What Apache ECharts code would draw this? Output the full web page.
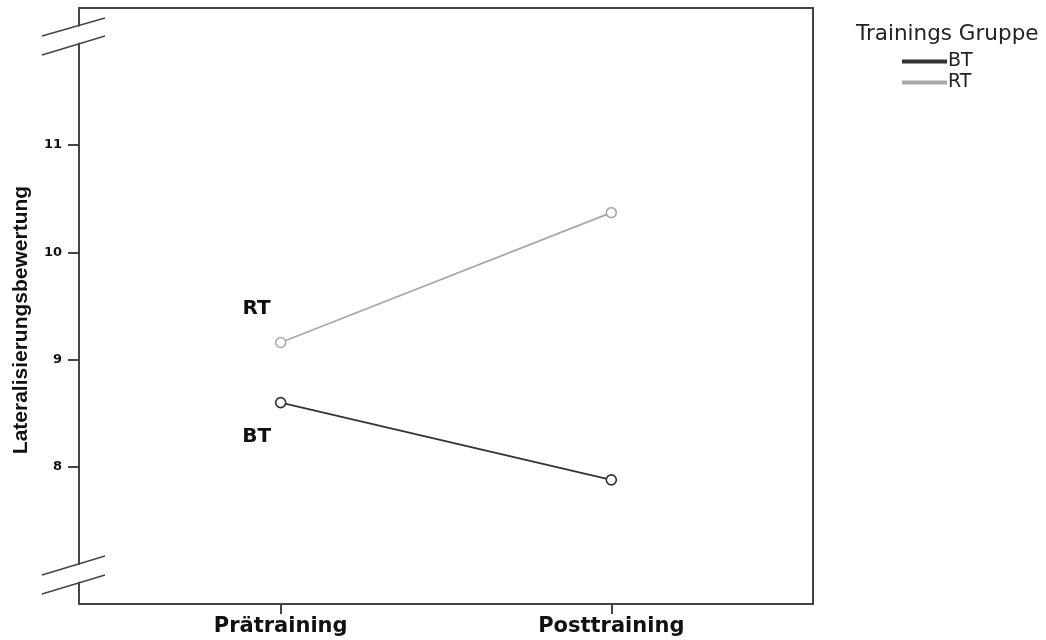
<!DOCTYPE html>
<html><head><meta charset="utf-8">
<script src="https://cdn.jsdelivr.net/npm/echarts@6/dist/echarts.min.js"></script>
<style>html,body{margin:0;padding:0;background:#fff}#c{width:1046px;height:640px}</style>
</head><body><div id="c"></div>
<script>
const categories = ['Prätraining', 'Posttraining'];
const seriesNames = ['BT', 'RT'];
const valuesBT = [8.60, 7.88];
const valuesRT = [9.16, 10.37];
const yTicks = [8, 9, 10, 11];
const legendTitle = 'Trainings Gruppe';
const yName = 'Lateralisierungsbewertung';

const chart = echarts.init(document.getElementById('c'), null, {renderer: 'canvas'});
const toPts = arr => arr.map((v, i) => [i, v]);

function mkSeries(name, vals, color, lblDy) {
  return {
    name: name, type: 'line', data: toPts(vals).map((p, i) => i === 0 ? {
      value: p,
      label: {show: true, position: 'inside', offset: [-24, lblDy], formatter: name,
        fontFamily: 'DejaVu Sans', fontWeight: 'bold', fontSize: 20, color: '#111'}
    } : {value: p}),
    symbol: 'circle', symbolSize: 10, showSymbol: true,
    itemStyle: {color: '#fff', borderColor: color, borderWidth: 1.6},
    lineStyle: {color: color, width: 1.8},
    color: color, z: 3, animation: false
  };
}

const option = {
  animation: false,
  backgroundColor: '#fff',
  title: {text: legendTitle, left: 851, top: 18,
    textStyle: {fontFamily: 'DejaVu Sans', fontWeight: 'normal', fontSize: 21.5, color: '#222'}},
  legend: {orient: 'vertical', left: 897, top: 46, itemGap: 0, itemWidth: 43, itemHeight: 2,
    icon: 'rect', data: seriesNames,
    textStyle: {fontFamily: 'DejaVu Sans', fontSize: 19, color: '#222', lineHeight: 21, padding: [0,0,0,-3]}},
  grid: {left: 79, right: 233, top: 8, bottom: 36, show: true, borderColor: '#444', borderWidth: 2,
    backgroundColor: '#fff', containLabel: false},
  xAxis: {type: 'value', min: -0.61, max: 1.61, splitLine: {show: false},
    axisLine: {show: true, onZero: false, lineStyle: {color: '#444', width: 2}},
    axisTick: {show: true, customValues: [0, 1], length: 10, lineStyle: {color: '#444', width: 2}},
    axisLabel: {customValues: [0, 1], formatter: v => categories[Math.round(v)] || '', margin: 12,
      fontFamily: 'DejaVu Sans', fontWeight: 'bold', fontSize: 21, color: '#111'}},
  yAxis: {type: 'value', min: 6.724, max: 12.276, splitLine: {show: false},
    name: yName, nameLocation: 'middle', nameGap: 47, nameRotate: 90,
    nameTextStyle: {fontFamily: 'Liberation Sans', fontWeight: 'bold', fontSize: 21, color: '#111',
      padding: [0, 28, 0, 0]},
    axisLine: {show: true, onZero: false, lineStyle: {color: '#444', width: 2}},
    axisTick: {show: true, customValues: yTicks, length: 11, lineStyle: {color: '#444', width: 2}},
    axisLabel: {customValues: yTicks, margin: 17, formatter: v => String(v),
      fontFamily: 'DejaVu Sans', fontWeight: 'bold', fontSize: 13, color: '#111'}},
  series: [mkSeries('BT', valuesBT, '#333333', 34), mkSeries('RT', valuesRT, '#a8a8a8', -34)],
  graphic: [
    {type: 'polygon', shape: {points: [[42, 37], [105, 19], [105, 35], [42, 54]]}, style: {fill: '#fff'}, z: 10},
    {type: 'line', shape: {x1: 42, y1: 36, x2: 105, y2: 18}, style: {stroke: '#444', lineWidth: 1.5}, z: 11},
    {type: 'line', shape: {x1: 42, y1: 55, x2: 105, y2: 36}, style: {stroke: '#444', lineWidth: 1.5}, z: 11},
    {type: 'polygon', shape: {points: [[42, 576], [105, 557], [105, 574], [42, 593]]}, style: {fill: '#fff'}, z: 10},
    {type: 'line', shape: {x1: 42, y1: 575, x2: 105, y2: 556}, style: {stroke: '#444', lineWidth: 1.5}, z: 11},
    {type: 'line', shape: {x1: 42, y1: 594, x2: 105, y2: 575}, style: {stroke: '#444', lineWidth: 1.5}, z: 11}
  ]
};
chart.setOption(option);
</script></body></html>
